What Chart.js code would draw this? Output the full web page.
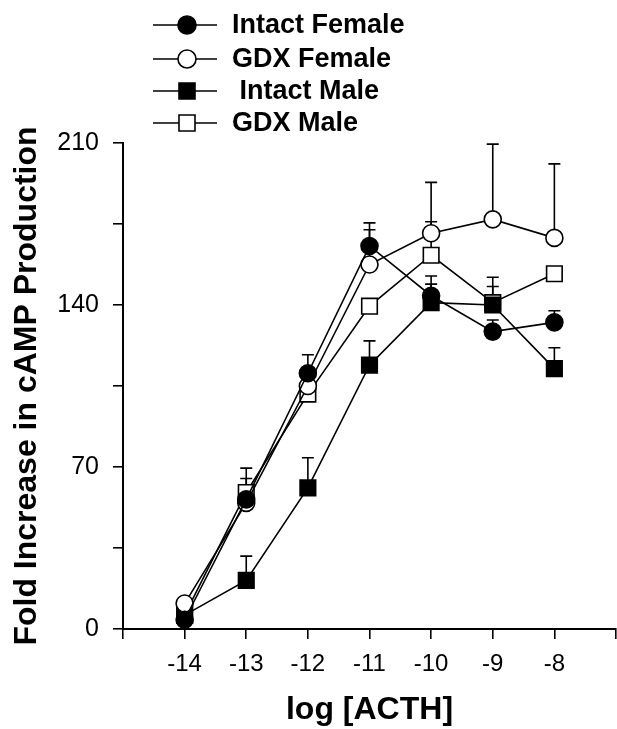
<!DOCTYPE html>
<html><head><meta charset="utf-8">
<script src="https://cdn.jsdelivr.net/npm/chart.js@4"></script>
<style>html,body{margin:0;padding:0;background:#fff}canvas{display:block}</style>
</head><body>
<canvas id="c" width="617" height="729"></canvas>
<script>
const logACTH = [-14, -13, -12, -11, -10, -9, -8];
const seriesNames = ['Intact Female', 'GDX Female', ' Intact Male', 'GDX Male'];
const intactFemale = [4, 56, 110.5, 165.5, 144, 128.5, 132.5];
const gdxFemale = [11, 54.5, 105, 157.5, 171, 177, 169];
const intactMale = [6, 21, 61, 114, 141, 140, 112.5];
const gdxMale = [6, 59, 101.5, 139.5, 161.5, 141, 153.5];
const intactFemaleErr = [null, 65, 118.5, 175.5, 152.5, 133.5, 137.5];
const gdxFemaleErr = [null, null, null, 172.5, 193, 209.5, 201];
const intactMaleErr = [null, 31.5, 74, 124.5, 149, 148, 121.5];
const gdxMaleErr = [null, 69.5, null, null, 176, 152, null];
const yTickLabels = [0, 70, 140, 210];
const xTickLabels = [-14, -13, -12, -11, -10, -9, -8];
const yTitle = 'Fold Increase in cAMP Production';
const xTitle = 'log [ACTH]';

const FONT = '"Liberation Sans", Arial, sans-serif';
const styles = [
  {pointStyle: 'circle', fill: '#000', radius: 8.5},
  {pointStyle: 'circle', fill: '#fff', radius: 8.5},
  {pointStyle: 'rect', fill: '#000', radius: 11},
  {pointStyle: 'rect', fill: '#fff', radius: 11}
];
const values = [intactFemale, gdxFemale, intactMale, gdxMale];
const errs = [intactFemaleErr, gdxFemaleErr, intactMaleErr, gdxMaleErr];

const datasets = values.map((v, i) => ({
  label: seriesNames[i],
  data: logACTH.map((x, j) => ({x: x, y: v[j]})),
  errUp: errs[i],
  borderColor: '#000',
  borderWidth: 1.6,
  backgroundColor: styles[i].fill,
  pointStyle: styles[i].pointStyle,
  pointRadius: styles[i].radius,
  pointBorderWidth: 1.6,
  pointBorderColor: '#000',
  pointBackgroundColor: styles[i].fill,
  fill: false,
  tension: 0,
  clip: false
}));

const errorBars = {
  id: 'errorBars',
  beforeDatasetsDraw(chart) {
    const ctx = chart.ctx;
    const xs = chart.scales.x, ys = chart.scales.y;
    ctx.save();
    ctx.strokeStyle = '#000';
    ctx.lineWidth = 1.6;
    chart.data.datasets.forEach(ds => {
      ds.data.forEach((p, j) => {
        const e = ds.errUp[j];
        if (e == null) return;
        const px = xs.getPixelForValue(p.x);
        const y0 = ys.getPixelForValue(p.y);
        const y1 = ys.getPixelForValue(e);
        ctx.beginPath();
        ctx.moveTo(px, y0); ctx.lineTo(px, y1);
        ctx.moveTo(px - 6, y1); ctx.lineTo(px + 6, y1);
        ctx.stroke();
      });
    });
    ctx.restore();
  }
};

const yTitlePlugin = {
  id: 'yTitle',
  afterDraw(chart) {
    const ctx = chart.ctx;
    ctx.save();
    ctx.translate(36, 386);
    ctx.rotate(-Math.PI / 2);
    ctx.fillStyle = '#000';
    ctx.font = 'bold 32px ' + FONT;
    ctx.textAlign = 'center';
    ctx.textBaseline = 'alphabetic';
    ctx.fillText(yTitle, 0, 0);
    ctx.restore();
  }
};

const legendPlugin = {
  id: 'customLegend',
  afterDraw(chart) {
    const ctx = chart.ctx;
    const rows = [25, 59, 91, 123];
    ctx.save();
    chart.data.datasets.forEach((ds, i) => {
      const y = rows[i];
      ctx.strokeStyle = '#000';
      ctx.lineWidth = 1.6;
      ctx.beginPath(); ctx.moveTo(153, y); ctx.lineTo(217, y); ctx.stroke();
      const st = styles[i];
      ctx.fillStyle = st.fill;
      ctx.beginPath();
      if (st.pointStyle === 'circle') {
        ctx.arc(187, y, 9, 0, Math.PI * 2);
      } else {
        ctx.rect(187 - 8, y - 8, 16, 16);
      }
      ctx.fill(); ctx.stroke();
      ctx.fillStyle = '#000';
      ctx.font = 'bold 27px ' + FONT;
      ctx.textBaseline = 'middle';
      ctx.textAlign = 'left';
      ctx.fillText(ds.label, 232, y + 1);
    });
    ctx.restore();
  }
};

new Chart(document.getElementById('c'), {
  type: 'line',
  data: {datasets: datasets},
  plugins: [errorBars, legendPlugin, yTitlePlugin],
  options: {
    responsive: false,
    animation: false,
    devicePixelRatio: 1,
    layout: {autoPadding: false, padding: {top: 143, right: 1, left: 0, bottom: 0}},
    plugins: {legend: {display: false}, tooltip: {enabled: false}},
    scales: {
      x: {
        type: 'linear', min: -15, max: -7,
        afterFit(s) { s.height = 100; s.paddingRight = 0; s.paddingLeft = 0; },
        ticks: {
          stepSize: 1, color: '#000', padding: 11,
          font: {family: FONT, size: 24},
          maxRotation: 0, autoSkip: false,
          callback: v => xTickLabels.includes(v) ? String(v) : ''
        },
        grid: {drawOnChartArea: false, drawTicks: true, tickLength: 10, color: '#000', lineWidth: 1.6},
        border: {display: true, color: '#000', width: 2},
        title: {display: true, text: xTitle, color: '#000', padding: {bottom: 0, top: 0},
          font: {family: FONT, size: 32, weight: 'bold'}}
      },
      y: {
        type: 'linear', min: 0, max: 210,
        afterFit(s) { s.width = 123; },
        ticks: {
          stepSize: 35, color: '#000', padding: 14,
          font: {family: FONT, size: 25},
          callback: v => yTickLabels.includes(v) ? String(v) : ''
        },
        grid: {drawOnChartArea: false, drawTicks: true, tickLength: 10, color: '#000', lineWidth: 1.6},
        border: {display: true, color: '#000', width: 2},
        title: {display: false}
      }
    }
  }
});
</script>
</body></html>
